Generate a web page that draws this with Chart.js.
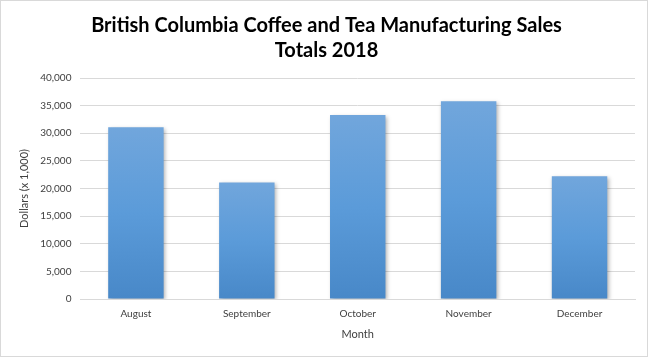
<!DOCTYPE html>
<html>
<head>
<meta charset="utf-8">
<script src="https://cdn.jsdelivr.net/npm/chart.js@4"></script>
<style>
html,body{margin:0;padding:0;background:#fff;}
#wrap{position:relative;width:646px;height:355px;border:1px solid #d9d9d9;}
</style>
</head>
<body>
<div id="wrap"><canvas id="c"></canvas></div>
<script>
const months = ["August", "September", "October", "November", "December"];
const sales = [31100, 21100, 33300, 35800, 22200];
const titleLines = ["British Columbia Coffee and Tea Manufacturing Sales", "Totals 2018"];
const yTitle = "Dollars (x 1,000)";
const xTitle = "Month";

const FONT = "Lato, 'Open Sans', sans-serif";

const shadowPlugin = {
  id: 'barShadow',
  beforeDatasetsDraw(chart) {
    const ctx = chart.ctx;
    ctx.save();
    ctx.shadowColor = 'rgba(0,0,0,0.30)';
    ctx.shadowBlur = 4;
    ctx.shadowOffsetX = 1.5;
    ctx.shadowOffsetY = 1.5;
  },
  afterDatasetsDraw(chart) {
    chart.ctx.restore();
  }
};

function barGradient(context) {
  const chart = context.chart;
  const area = chart.chartArea;
  if (!area) return '#5b9bd5';
  const yScale = chart.scales.y;
  const v = context.raw;
  const top = yScale.getPixelForValue(v);
  const bottom = yScale.getPixelForValue(0);
  const g = chart.ctx.createLinearGradient(0, top, 0, bottom);
  g.addColorStop(0, '#71a6dc');
  g.addColorStop(0.5, '#5b9bd9');
  g.addColorStop(1, '#4888c8');
  return g;
}

new Chart(document.getElementById('c'), {
  type: 'bar',
  data: {
    labels: months,
    datasets: [{
      data: sales,
      backgroundColor: barGradient,
      borderWidth: 0,
      barPercentage: 0.5,
      categoryPercentage: 1.0
    }]
  },
  plugins: [shadowPlugin],
  options: {
    responsive: true,
    maintainAspectRatio: false,
    animation: false,
    devicePixelRatio: 1,
    layout: { padding: { left: 17, right: 12, top: 0, bottom: 6 } },
    plugins: {
      legend: { display: false },
      tooltip: { enabled: false },
      title: {
        display: true,
        text: titleLines,
        color: '#000000',
        font: { family: FONT, size: 20, weight: 'bold', lineHeight: 1.25 },
        padding: { top: 12, bottom: 15 }
      }
    },
    scales: {
      x: {
        grid: { display: false, drawTicks: false },
        border: { display: true, color: '#d9d9d9', width: 1 },
        ticks: { color: '#404040', font: { family: FONT, size: 10, lineHeight: 1 }, padding: 10 },
        title: { display: true, text: xTitle, color: '#404040', font: { family: FONT, size: 11, lineHeight: 1 }, padding: { top: 0, bottom: 10 } }
      },
      y: {
        min: 0,
        max: 40000,
        ticks: { stepSize: 5000, color: '#404040', font: { family: FONT, size: 10 }, padding: 9 },
        grid: { color: '#d9d9d9', drawTicks: false },
        border: { display: false },
        title: { display: true, text: yTitle, color: '#404040', font: { family: FONT, size: 11 }, padding: { top: 0, bottom: 0 } }
      }
    }
  }
});
</script>
</body>
</html>
